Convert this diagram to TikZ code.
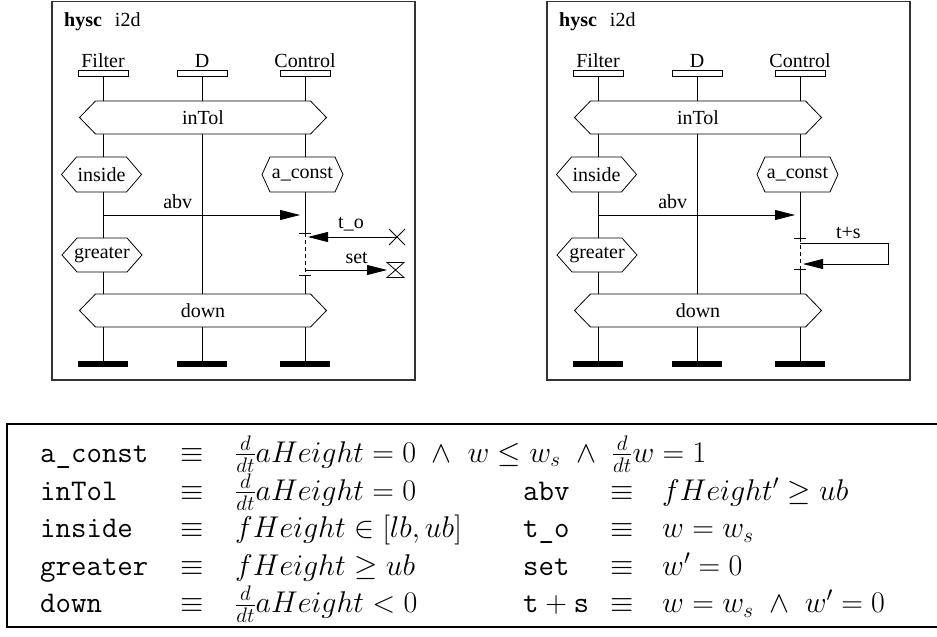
\RequirePackage{fix-cm}
\documentclass[tikz,border=0pt]{standalone}
\usepackage{fontspec}
\newfontfamily\timesfont{Liberation Serif}
\usetikzlibrary{arrows.meta, positioning}
\tikzset{
	diagtext/.style={font=\fontsize{20}{24}\selectfont\timesfont, inner sep=0pt}
}
\tikzset{
	tabtext/.style={font=\fontsize{30}{36}\selectfont, inner sep=0pt, anchor=base west},
	condline/.style={line width=0.8pt, fill=white},
	lifeline/.style={line width=0.8pt},
	msg/.style={line width=0.8pt, -{Triangle[length=20pt,width=10pt]}},
	headbox/.style={draw, line width=0.8pt, minimum width=50pt, minimum height=6pt, inner sep=0pt},
	endbar/.style={fill=black, minimum width=50pt, minimum height=6pt, inner sep=0pt}
}
% hexagon condition: name, x, y, half flat width, tip, half height, text
\newcommand{\cond}[7]{%
  \draw[condline] (#2-#4-#5,#3) -- (#2-#4,#3-#6) -- (#2+#4,#3-#6)
    -- (#2+#4+#5,#3) -- (#2+#4,#3+#6) -- (#2-#4,#3+#6) -- cycle;
  \node[diagtext] (#1) at (#2,#3) {#7};
}

\begin{document}
\begin{tikzpicture}[x=1pt, y=-1pt]
      \useasboundingbox[fill=white] (0,0) rectangle (937,637);
      \foreach \ox/\p/\ta/\tb in {0/l/233/275, 495/r/238/269} {
        \begin{scope}[xshift=\ox pt]
        \draw[line width=1.1pt, black!80] (52,1.5) rectangle (415,380);
        \node[diagtext, anchor=base west] (title\p) at (64,26) {\textbf{hysc}\hspace{13pt}i2d};
        % instance heads and ends
        \foreach \x/\n/\l in {103/f/Filter, 202/d/D, 305/c/Control} {
          \node[headbox] (head\n\p) at (\x,73) {};
          \node[diagtext, anchor=base] (lab\n\p) at (\x,67) {\l};
          \node[endbar] (bar\n\p) at (\x,364) {};
        }
        \draw[lifeline] (headf\p) -- (barf\p);
        \draw[lifeline] (headd\p) -- (bard\p);
        % control line with its dashed part
        \coordinate (ta\p) at (305,\ta);
        \coordinate (tb\p) at (305,\tb);
        \draw[lifeline] (headc\p) -- (ta\p);
        \draw[lifeline, dashed, dash pattern=on 4pt off 3pt] (ta\p) -- (tb\p);
        \draw[lifeline] (tb\p) -- (barc\p);
        \draw[lifeline] ([xshift=-6pt]ta\p) -- ([xshift=6pt]ta\p);
        \draw[lifeline] ([xshift=-6pt]tb\p) -- ([xshift=6pt]tb\p);
        % conditions
        \cond{intol\p}{203}{117.5}{107.5}{16}{16.5}{inTol}
        \cond{inside\p}{101.5}{174.5}{25}{15}{17.5}{inside}
        \cond{aconst\p}{302.5}{174.5}{32.5}{8}{17.5}{a\_const}
        \cond{greater\p}{102}{255}{25}{15}{17}{greater}
        \cond{down\p}{203}{310.5}{107.5}{16}{16.5}{down}
        % abv message
        \coordinate (abvs\p) at (103,215);
        \coordinate (abvt\p) at (305,215);
        \draw[msg, shorten >=5pt] (abvs\p) -- node[diagtext, anchor=base, pos=0.37, yshift=7pt] (abv\p) {abv} (abvt\p);
        \end{scope}
      }
      % timeout and set in the left chart
      \coordinate (tos) at (397,237);
      \coordinate (tot) at (305,237);
      \draw[msg, shorten >=3pt] (tos) -- node[diagtext, anchor=base, yshift=9pt] (tolab) {t\_o} (tot);
      \draw[line width=0.8pt] ([shift={(-8,-8)}]tos) -- ([shift={(8,8)}]tos)
        ([shift={(-8,8)}]tos) -- ([shift={(8,-8)}]tos);
      \coordinate (sets) at (305,270);
      \coordinate (sett) at (387,270);
      \draw[msg] (sets) -- node[diagtext, anchor=base, pos=0.63, yshift=7pt] (setlab) {set} (sett);
      \draw[line width=0.8pt] (sett) ++(0,-7.5) -- ++(17,0) -- ++(-17,15) -- ++(17,0) -- cycle;
      % timeout+set in the right chart
      \coordinate (tss) at (800,243);
      \coordinate (tst) at (800,264);
      \draw[msg, shorten >=3pt] (tss) -- node[diagtext, anchor=base, pos=0.55, yshift=5pt] (tslab) {t+s} (888,243) -- (888,264) -- (tst);
      % table of definitions
      \draw[line width=1.6pt] (939,424) -- (7,424) -- (7,627) -- (939,627);
      \foreach \y/\n/\f in {
        462/a\_const/{$\frac{d}{dt}aHeight = 0\ \wedge\ w \leq w_s\ \wedge\ \frac{d}{dt}w = 1$},
        500/inTol/{$\frac{d}{dt}aHeight = 0$},
        537.5/inside/{$fHeight \in [lb, ub]$},
        575/greater/{$fHeight \geq ub$},
        612.5/down/{$\frac{d}{dt}aHeight < 0$}}
      {
        \node[tabtext] at (40,\y) {\ttfamily\n};
        \node[tabtext, anchor=base] at (192,\y) {$\equiv$};
        \node[tabtext] at (235,\y) {\f};
      }
      \foreach \y/\n/\f in {
        500/{\ttfamily abv}/{$fHeight' \geq ub$},
        537.5/{\ttfamily t\_o}/{$w = w_s$},
        575/{\ttfamily set}/{$w' = 0$},
        612.5/{$\mathtt{t}+\mathtt{s}$}/{$w = w_s\ \wedge\ w' = 0$}}
      {
        \node[tabtext] at (523,\y) {\n};
        \node[tabtext, anchor=base] at (622,\y) {$\equiv$};
        \node[tabtext] at (662,\y) {\f};
      }
\end{tikzpicture}
\end{document}
